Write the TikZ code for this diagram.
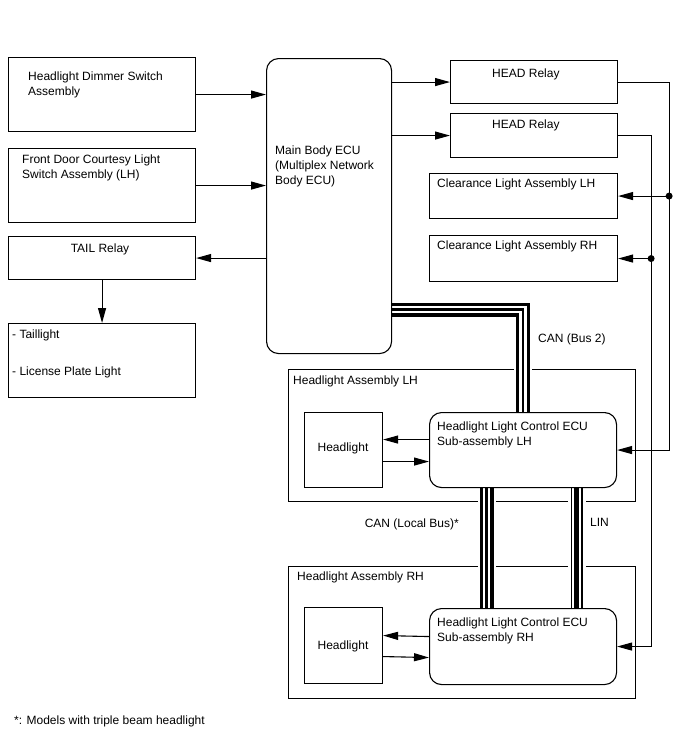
\documentclass[tikz,border=0pt]{standalone}
\usepackage{fontspec}
\setmainfont{Liberation Sans}
\usetikzlibrary{arrows.meta}
\pgfdeclarelayer{frame}
\pgfdeclarelayer{bus}
\pgfsetlayers{frame,bus,main}
\tikzset{
  box/.style={draw,rectangle,anchor=north west,inner sep=0pt,line width=1.1pt},
  ecubox/.style={box,rounded corners=12pt},
  txt/.style={anchor=north west,inner sep=0pt,align=left,font=\fontsize{12}{15}\selectfont},
  arr/.style={line width=1.1pt,-{Triangle[length=15pt,width=8pt]}},
  canbus/.style={line join=miter,draw=white,line width=18pt,
    postaction={draw=black,line width=14pt,
      postaction={draw=white,line width=7.5pt,
        postaction={draw=black,line width=2.5pt}}}},
  linbus/.style={draw=white,line width=18pt,
    postaction={draw=black,line width=12pt,
      postaction={draw=white,line width=9pt,
        postaction={draw=black,line width=4.5pt}}}}
}
\begin{document}
\begin{tikzpicture}[x=1pt,y=-1pt]
\useasboundingbox (0,0) rectangle (688,755);
\node[box,minimum width=187pt,minimum height=74pt] (dimmer) at (8,57) {};
\node[box,minimum width=187pt,minimum height=74pt] (door) at (8,148) {};
\node[box,minimum width=187pt,minimum height=43pt] (tail) at (8,236) {};
\node[box,minimum width=187pt,minimum height=74pt] (lamps) at (8,323) {};
\node[ecubox,minimum width=125pt,minimum height=295pt] (ecu) at (266,58) {};
\node[box,minimum width=167pt,minimum height=43pt] (head1) at (450,60) {};
\node[box,minimum width=167pt,minimum height=44pt] (head2) at (450,113) {};
\node[box,minimum width=188pt,minimum height=45pt] (clrL) at (429,173) {};
\node[box,minimum width=188pt,minimum height=46pt] (clrR) at (429,235) {};
\begin{pgfonlayer}{frame}
\node[box,minimum width=347pt,minimum height=132pt] (haL) at (288,369) {};
\node[box,minimum width=347pt,minimum height=132pt] (haR) at (288,566) {};
\end{pgfonlayer}
\node[box,minimum width=78pt,minimum height=75pt] (hlL) at (304,412) {};
\node[ecubox,minimum width=187pt,minimum height=75pt] (ecuL) at (429,412) {};
\node[box,minimum width=78pt,minimum height=76pt] (hlR) at (304,607) {};
\node[ecubox,minimum width=187pt,minimum height=76pt] (ecuR) at (429,608) {};

\node[txt] (dimmer-t) at (28,71.5) {Headlight Dimmer Switch\\Assembly};
\node[txt] (door-t) at (22,154.5) {Front Door Courtesy Light\\Switch Assembly (LH)};
\node[txt,anchor=north] (tail-t) at (100,243.5) {TAIL Relay};
\node[txt] (lamps-t) at (12,329.5) {- Taillight\\[22pt]- License Plate Light};
\node[txt] (ecu-t) at (275,145.5) {Main Body ECU\\(Multiplex Network\\Body ECU)};
\node[txt] (head1-t) at (492,68.5) {HEAD Relay};
\node[txt] (head2-t) at (492,119.5) {HEAD Relay};
\node[txt] (clrL-t) at (437,178.5) {Clearance Light Assembly LH};
\node[txt] (clrR-t) at (437,240.5) {Clearance Light Assembly RH};
\node[txt] (haL-t) at (293,375.5) {Headlight Assembly LH};
\node[txt,anchor=north] (hlL-t) at (343,442.5) {Headlight};
\node[txt] (ecuL-t) at (437,421.5) {Headlight Light Control ECU\\Sub-assembly LH};
\node[txt] (haR-t) at (297,571.5) {Headlight Assembly RH};
\node[txt,anchor=north] (hlR-t) at (343,640.5) {Headlight};
\node[txt] (ecuR-t) at (437,617.5) {Headlight Light Control ECU\\Sub-assembly RH};
\node[txt] (can2-t) at (538,333.5) {CAN (Bus 2)};
\node[txt,anchor=north east] (canl-t) at (459,518.5) {CAN (Local Bus)*};
\node[txt] (lin-t) at (590,518.5) {LIN};
\node[txt] (note-t) at (14,715.5) {*: Models with triple beam headlight};

\draw[arr] (dimmer.east) -- (ecu.west |- dimmer.east);
\draw[arr] (door.east) -- (ecu.west |- door.east);
\draw[arr] (ecu.west |- tail.east) -- (tail.east);
\draw[arr] (tail.south) -- (lamps.north);
\draw[arr] (ecu.east |- head1.west) -- (head1.west);
\draw[arr] (ecu.east |- head2.west) -- (head2.west);

\coordinate (jL) at ([xshift=51pt]clrL.east);
\coordinate (jR) at ([xshift=33pt]clrR.east);
\draw[arr] (head1.east) -| ([xshift=52pt]ecuL.east) -- (ecuL.east);
\draw[arr] (head2.east) -| ([xshift=34pt]ecuR.east) -- (ecuR.east);
\draw[arr] (jL) -- (clrL.east);
\draw[arr] (jR) -- (clrR.east);
\fill (jL) circle (3.5pt);
\fill (jR) circle (3.5pt);

\draw[arr] ([yshift=10.5pt]ecuL.west) -- ([yshift=10.5pt]hlL.east);
\draw[arr] ([yshift=-11.5pt]hlL.east) -- ([yshift=-11.5pt]ecuL.west);
\draw[arr] ([yshift=10pt]ecuR.west) -- ([yshift=10pt]hlR.east);
\draw[arr] ([yshift=-11pt]hlR.east) -- ([yshift=-11pt]ecuR.west);

\begin{pgfonlayer}{bus}
\draw[canbus] ([yshift=-103.5pt]ecu.east) -| (ecuL.north);
\draw[canbus] ([xshift=-36.5pt]ecuL.south) -- ([xshift=-36.5pt]ecuR.north);
\draw[linbus] ([xshift=53.5pt]ecuL.south) -- ([xshift=53.5pt]ecuR.north);
\end{pgfonlayer}
\end{tikzpicture}
\end{document}
